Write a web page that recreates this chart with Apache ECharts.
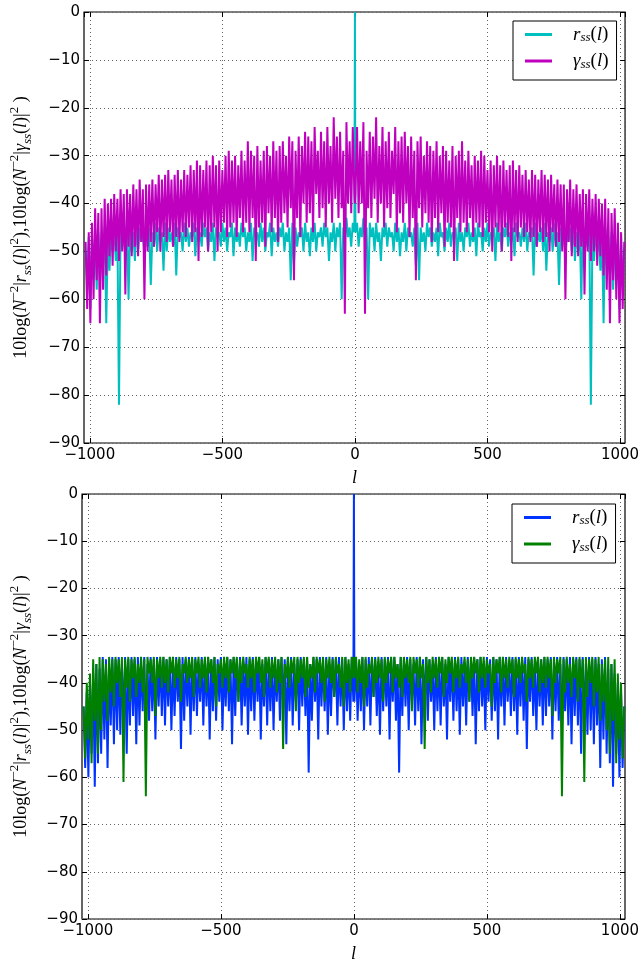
<!DOCTYPE html>
<html>
<head>
<meta charset="utf-8">
<script src="https://cdn.jsdelivr.net/npm/echarts@6/dist/echarts.min.js"></script>
<style>
html, body { margin: 0; padding: 0; background: #fff; }
#main { width: 642px; height: 964px; }
</style>
</head>
<body>
<div id="main"></div>
<script>
// both curves are symmetric in l, so only l >= 0 is kept: lags 2, 8, 14, ... 1016
const lagStart = 2, lagStep = 6;

// top panel: r_ss (cyan) and gamma_ss (magenta), dB
const topCenterR = 0, topCenterG = -40;
const topR = [
  -46, -44, -49, -45, -47, -43, -48, -45, -60, -44,
  -47, -45, -50, -44, -48, -46, -52, -45, -47, -44,
  -49, -45, -47, -46, -50, -44, -48, -45, -51, -46,
  -48, -44, -50, -45, -47, -46, -49, -45, -53, -44,
  -56, -45, -48, -46, -50, -44, -47, -45, -49, -46,
  -48, -45, -51, -44, -47, -46, -50, -45, -48, -44,
  -49, -46, -47, -45, -52, -44, -48, -46, -50, -45,
  -47, -44, -49, -46, -48, -45, -51, -44, -47, -46,
  -50, -45, -48, -44, -49, -46, -47, -45, -52, -44,
  -48, -46, -50, -45, -47, -44, -49, -46, -48, -45,
  -51, -44, -47, -46, -49, -45, -48, -44, -50, -46,
  -47, -45, -55, -44, -49, -46, -48, -45, -50, -44,
  -54, -46, -48, -45, -50, -44, -49, -46, -57, -45,
  -49, -44, -51, -46, -48, -45, -50, -44, -52, -46,
  -50, -45, -60, -44, -51, -46, -49, -45, -82, -46,
  -52, -45, -50, -47, -54, -46, -65, -45, -53, -47,
  -55, -46, -58, -47, -52, -48, -62, -47, -57, -50
];
const topG = [
  -38, -24, -42, -27, -40, -23, -63, -29, -41, -25,
  -43, -26, -39, -22, -44, -28, -40, -24, -45, -27,
  -41, -25, -43, -29, -38, -24, -46, -27, -42, -26,
  -44, -25, -40, -28, -47, -26, -43, -29, -56, -27,
  -41, -26, -45, -30, -42, -27, -44, -28, -48, -29,
  -43, -27, -46, -30, -42, -28, -49, -29, -44, -31,
  -45, -28, -52, -30, -43, -29, -46, -27, -44, -31,
  -46, -29, -43, -32, -47, -30, -44, -31, -45, -29,
  -47, -30, -44, -33, -46, -31, -50, -32, -45, -30,
  -46, -32, -50, -31, -45, -33, -47, -32, -52, -31,
  -46, -33, -48, -32, -45, -34, -47, -33, -46, -35,
  -48, -33, -47, -34, -49, -35, -46, -33, -48, -34,
  -47, -35, -50, -34, -46, -36, -49, -35, -48, -36,
  -50, -36, -60, -37, -48, -35, -51, -37, -49, -36,
  -51, -38, -49, -37, -59, -38, -50, -37, -52, -39,
  -50, -38, -53, -39, -51, -40, -55, -39, -58, -41,
  -65, -42, -56, -41, -60, -44, -65, -46, -62, -48
];

// bottom panel: r_ss (blue) and gamma_ss (green), dB
const botCenterR = 0, botCenterG = -34.5;
const botR = [
  -44, -34.5, -48, -36, -46, -34.5, -50, -35, -45, -34.5,
  -49, -35, -43, -34.5, -47, -36, -51, -34.5, -46, -35,
  -45, -34.5, -52, -35, -44, -34.5, -48, -36, -59, -34.5,
  -47, -35, -45, -34.5, -50, -35, -44, -36, -49, -34.5,
  -46, -34.5, -53, -35, -45, -34.5, -48, -35, -44, -36,
  -50, -34.5, -46, -35, -49, -34.5, -45, -36, -52, -34.5,
  -44, -35, -48, -34.5, -46, -35, -51, -34.5, -45, -36,
  -49, -34.5, -44, -35, -47, -34.5, -53, -35, -46, -34.5,
  -45, -36, -50, -34.5, -44, -35, -48, -34.5, -46, -35,
  -52, -34.5, -45, -35, -49, -34.5, -44, -36, -47, -34.5,
  -46, -35, -51, -34.5, -45, -35, -48, -34.5, -54, -35,
  -44, -34.5, -47, -36, -50, -34.5, -45, -35, -49, -34.5,
  -47, -35, -45, -34.5, -52, -35, -46, -34.5, -48, -36,
  -50, -34.5, -46, -35, -49, -34.5, -53, -35, -47, -34.5,
  -49, -35, -55, -34.5, -48, -36, -51, -34.5, -50, -35,
  -53, -34.5, -49, -36, -58, -35, -52, -34.5, -55, -37,
  -57, -36, -62, -38, -55, -40, -60, -42, -58, -45
];
const botG = [
  -39, -34.5, -42, -35, -40, -34.5, -45, -34.5, -41, -36,
  -38, -34.5, -43, -35, -40, -34.5, -39, -35, -44, -34.5,
  -40, -35, -38, -34.5, -42, -34.5, -39, -36, -41, -34.5,
  -43, -34.5, -39, -35, -40, -34.5, -46, -34.5, -38, -35,
  -41, -34.5, -39, -36, -54, -34.5, -40, -35, -42, -34.5,
  -39, -35, -41, -34.5, -38, -34.5, -43, -35, -40, -34.5,
  -38, -34.5, -42, -35, -39, -34.5, -41, -36, -38, -34.5,
  -40, -35, -44, -34.5, -39, -34.5, -38, -35, -42, -34.5,
  -39, -34.5, -41, -35, -38, -36, -45, -34.5, -40, -35,
  -38, -34.5, -42, -34.5, -39, -35, -41, -34.5, -38, -35,
  -43, -34.5, -39, -35, -40, -34.5, -38, -36, -44, -34.5,
  -39, -35, -41, -34.5, -38, -34.5, -42, -35, -40, -34.5,
  -41, -34.5, -39, -35, -47, -34.5, -40, -35, -38, -34.5,
  -64, -35, -42, -34.5, -40, -36, -43, -34.5, -39, -35,
  -44, -34.5, -41, -35, -61, -34.5, -43, -35, -40, -34.5,
  -45, -35, -42, -34.5, -48, -36, -44, -35, -50, -34.5,
  -55, -36, -48, -35, -57, -38, -52, -40, -56, -45
];

const xMin = -1022, xMax = 1019;
const yMin = -90, yMax = 0, yStep = 10;

function mirror(half, center) {
  const pos = half.map((v, i) => [lagStart + i * lagStep, v]);
  const neg = pos.slice().reverse().map(p => [-p[0], p[1]]);
  return neg.concat([[0, center]], pos);
}

const serif = 'Liberation Serif';
const rich = {
  n: { fontFamily: serif, fontSize: 18, color: '#000', lineHeight: 26 },
  i: { fontFamily: serif, fontStyle: 'italic', fontSize: 18, color: '#000', lineHeight: 26 },
  sub: { fontFamily: serif, fontStyle: 'italic', fontSize: 13, color: '#000', lineHeight: 26, verticalAlign: 'bottom' },
  sup: { fontFamily: serif, fontSize: 13, color: '#000', lineHeight: 26, verticalAlign: 'top' }
};
const legRich = {
  n: { fontFamily: serif, fontSize: 19, color: '#000', lineHeight: 20 },
  i: { fontFamily: serif, fontStyle: 'italic', fontSize: 19, color: '#000', lineHeight: 20 },
  sub: { fontFamily: serif, fontStyle: 'italic', fontSize: 13, color: '#000', lineHeight: 20, verticalAlign: 'bottom' },
  gap: { width: 16 }
};

const yName = '{n|10log(}{i|N}{sup|\u22122}{n||}{i|r}{sub|ss}{n|(}{i|l}{n|)|}{sup|2}{n|),10log(}'
  + '{i|N}{sup|\u22122}{n||}{i|\u03b3}{sub|ss}{n|(}{i|l}{n|)|}{sup|2}{n| )}';

const legendText = {
  rTop: '{gap|}{i|r}{sub|ss}{n|(}{i|l}{n|)}',
  gTop: '{gap|}{i|\u03b3}{sub|ss}{n|(}{i|l}{n|)}',
  rBot: '{gap|}{i|r}{sub|ss}{n|(}{i|l}{n|)}',
  gBot: '{gap|}{i|\u03b3}{sub|ss}{n|(}{i|l}{n|)}'
};

const tickFont = { fontFamily: 'DejaVu Sans', fontSize: 15, color: '#000' };
const minus = v => (v < 0 ? '\u2212' + (-v) : String(v));
const dotted = { show: true, lineStyle: { color: '#666', type: [1, 3], width: 1 } };
const tick = { show: true, inside: true, length: 5, lineStyle: { color: '#000', width: 1 } };
const noLine = { show: false, onZero: false };

const grids = [
  { left: 73, top: 12, width: 554, height: 431 },
  { left: 71, top: 494, width: 554, height: 431 }
];

function xAxes(g) {
  return [{
    gridIndex: g, type: 'value', position: 'bottom', min: xMin, max: xMax, splitNumber: 4,
    axisLine: noLine, axisTick: tick, splitLine: dotted,
    axisLabel: Object.assign({ margin: 5, showMinLabel: false, showMaxLabel: false, formatter: minus }, tickFont),
    name: '{i|l}', nameLocation: 'middle', nameGap: 22,
    nameTextStyle: { rich: rich }
  }, {
    gridIndex: g, type: 'value', position: 'top', min: xMin, max: xMax, splitNumber: 4,
    axisLine: noLine, axisTick: tick, splitLine: { show: false }, axisLabel: { show: false }
  }];
}
function yAxes(g) {
  return [{
    gridIndex: g, type: 'value', position: 'left', min: yMin, max: yMax, interval: yStep,
    axisLine: noLine, axisTick: tick, splitLine: dotted,
    axisLabel: Object.assign({ margin: 4, formatter: minus }, tickFont),
    name: yName, nameLocation: 'middle', nameRotate: 90, nameGap: g === 0 ? 50 : 48,
    nameTextStyle: { rich: rich }
  }, {
    gridIndex: g, type: 'value', position: 'right', min: yMin, max: yMax, interval: yStep,
    axisLine: noLine, axisTick: tick, splitLine: { show: false }, axisLabel: { show: false }
  }];
}

function lineSeries(name, data, color, axis) {
  return {
    name: name, type: 'line', data: data, xAxisIndex: axis * 2, yAxisIndex: axis * 2,
    showSymbol: false, symbol: 'none', animation: false, clip: true,
    lineStyle: { color: color, width: 2 }, itemStyle: { color: color }
  };
}

function legend(names, top, left) {
  return {
    data: names, orient: 'vertical', left: left, top: top, itemGap: 7,
    icon: 'rect', itemWidth: 27, itemHeight: 3,
    padding: [4, 8, 9, 12], borderColor: '#000', borderWidth: 1, backgroundColor: '#fff',
    formatter: n => legendText[n],
    textStyle: { rich: legRich }
  };
}

const chart = echarts.init(document.getElementById('main'), null, { renderer: 'canvas' });
chart.setOption({
  animation: false,
  backgroundColor: '#fff',
  grid: grids.map(g => Object.assign({ show: true, borderColor: '#000', borderWidth: 1.2, backgroundColor: 'transparent' }, g)),
  xAxis: xAxes(0).concat(xAxes(1)),
  yAxis: yAxes(0).concat(yAxes(1)),
  legend: [legend(['rTop', 'gTop'], 21, 513), legend(['rBot', 'gBot'], 504, 512)],
  series: [
    lineSeries('rTop', mirror(topR, topCenterR), '#00bfbf', 0),
    lineSeries('gTop', mirror(topG, topCenterG), '#bf00bf', 0),
    lineSeries('rBot', mirror(botR, botCenterR), '#0033ff', 1),
    lineSeries('gBot', mirror(botG, botCenterG), '#008000', 1)
  ]
});
</script>
</body>
</html>
